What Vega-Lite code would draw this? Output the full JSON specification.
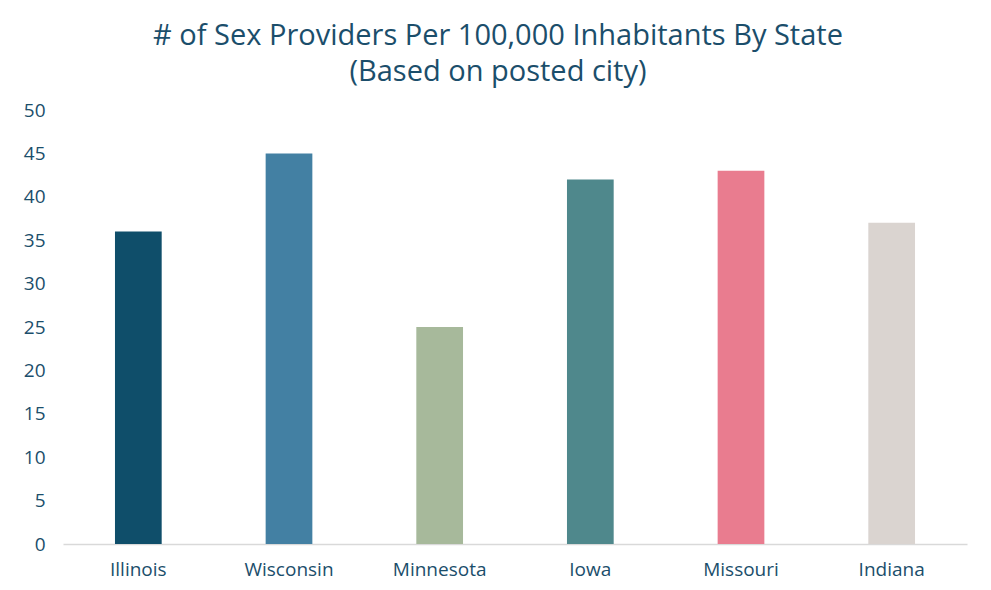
{
  "$schema": "https://vega.github.io/schema/vega-lite/v6.json",
  "autosize": {"type": "none"},
  "width": 904,
  "height": 434,
  "padding": {"left": 63, "top": 110, "right": 24, "bottom": 46},
  "background": "white",
  "title": {
    "text": ["# of Sex Providers Per 100,000 Inhabitants By State", "(Based on posted city)"],
    "fontSize": 29,
    "font": "Open Sans",
    "fontWeight": 500,
    "color": "#1b4e6b",
    "lineHeight": 36,
    "dx": -17,
    "offset": 14
  },
  "data": {
    "values": [
      {"state": "Illinois", "value": 36, "color": "#0f4e6a"},
      {"state": "Wisconsin", "value": 45, "color": "#4380a3"},
      {"state": "Minnesota", "value": 25, "color": "#a7b99b"},
      {"state": "Iowa", "value": 42, "color": "#4f888c"},
      {"state": "Missouri", "value": 43, "color": "#e97c8f"},
      {"state": "Indiana", "value": 37, "color": "#dad4d0"}
    ]
  },
  "mark": {"type": "bar"},
  "encoding": {
    "x": {
      "field": "state",
      "type": "nominal",
      "sort": null,
      "scale": {"paddingInner": 0.69, "paddingOuter": 0.345},
      "axis": {
        "title": null,
        "labelAngle": 0,
        "labelFont": "Open Sans",
        "labelFontSize": 19,
        "labelFontWeight": 500,
        "labelColor": "#1b4e6b",
        "labelPadding": 16,
        "ticks": false,
        "domainColor": "#d9d9d9",
        "domainWidth": 1.5
      }
    },
    "y": {
      "field": "value",
      "type": "quantitative",
      "scale": {"domain": [0, 50]},
      "axis": {
        "title": null,
        "values": [0, 5, 10, 15, 20, 25, 30, 35, 40, 45, 50],
        "labelFont": "Open Sans",
        "labelFontSize": 19,
        "labelFontWeight": 500,
        "labelColor": "#1b4e6b",
        "labelPadding": 18,
        "ticks": false,
        "domain": false,
        "grid": false
      }
    },
    "color": {"field": "color", "type": "nominal", "scale": null, "legend": null}
  },
  "config": {"view": {"stroke": null}}
}
